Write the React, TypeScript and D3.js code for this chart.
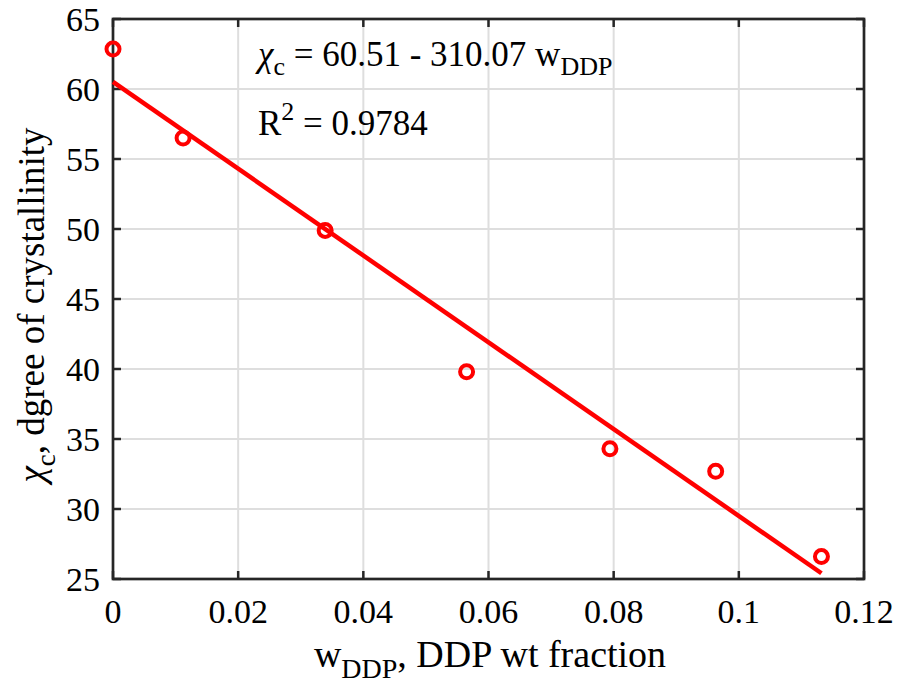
import React from "react";
import * as d3 from "d3";

const wDDP = [0, 0.0112, 0.0339, 0.0565, 0.0794, 0.0963, 0.1132];
const chiC = [62.85, 56.5, 49.9, 39.8, 34.3, 32.7, 26.6];
const xTicks = [0, 0.02, 0.04, 0.06, 0.08, 0.1, 0.12];
const yTicks = [25, 30, 35, 40, 45, 50, 55, 60, 65];
const fitIntercept = 60.51;
const fitSlope = -310.07;

const W = 900, H = 689;
const M = { left: 113, right: 36, top: 19, bottom: 110 };
const FONT = "Liberation Serif, Times New Roman, DejaVu Serif, serif";
const RED = "#ff0000";
const AX = "#262626";

export default function App() {
  const x = d3.scaleLinear().domain([0, 0.12]).range([M.left, W - M.right]);
  const y = d3.scaleLinear().domain([25, 65]).range([H - M.bottom, M.top]);
  const x0 = d3.min(wDDP)!, x1 = d3.max(wDDP)!;
  const fit = [x0, x1].map((v) => [v, fitIntercept + fitSlope * v] as [number, number]);
  const line = d3.line<[number, number]>().x((d) => x(d[0])).y((d) => y(d[1]));
  const fmt = (v: number) => (v === 0 ? "0" : String(+v.toFixed(2)));
  const [xl, xr] = x.range();
  const [yb, yt] = y.range();

  return (
    <svg width={W} height={H} style={{ position: "absolute", left: 0, top: 0, background: "#fff", fontFamily: FONT }}>
      <rect x={0} y={0} width={W} height={H} fill="#fff" />
      {xTicks.map((t) => (
        <line key={"gx" + t} x1={x(t)} x2={x(t)} y1={yb} y2={yt} stroke="#dedede" strokeWidth={2} />
      ))}
      {yTicks.map((t) => (
        <line key={"gy" + t} x1={xl} x2={xr} y1={y(t)} y2={y(t)} stroke="#dedede" strokeWidth={2} />
      ))}
      {xTicks.map((t) => (
        <g key={"tx" + t}>
          <line x1={x(t)} x2={x(t)} y1={yb} y2={yb - 8} stroke={AX} strokeWidth={2.5} />
          <line x1={x(t)} x2={x(t)} y1={yt} y2={yt + 8} stroke={AX} strokeWidth={2.5} />
          <text x={x(t)} y={yb + 44} fontSize={34} textAnchor="middle" fill="#000">{fmt(t)}</text>
        </g>
      ))}
      {yTicks.map((t) => (
        <g key={"ty" + t}>
          <line x1={xl} x2={xl + 8} y1={y(t)} y2={y(t)} stroke={AX} strokeWidth={2.5} />
          <line x1={xr} x2={xr - 8} y1={y(t)} y2={y(t)} stroke={AX} strokeWidth={2.5} />
          <text x={xl - 13} y={y(t) + 12} fontSize={34} textAnchor="end" fill="#000">{t}</text>
        </g>
      ))}
      <rect x={xl} y={yt} width={xr - xl} height={yb - yt} fill="none" stroke={AX} strokeWidth={2.7} />
      <path d={line(fit)!} fill="none" stroke={RED} strokeWidth={4.5} />
      {wDDP.map((v, i) => (
        <circle key={i} cx={x(v)} cy={y(chiC[i])} r={6.5} fill="none" stroke={RED} strokeWidth={4} />
      ))}
      <text x={258} y={66} fontSize={35} fill="#000">
        <tspan fontStyle="italic">χ</tspan>
        <tspan fontSize={26} dy={9}>c</tspan>
        <tspan dy={-9}> = 60.51 - 310.07 w</tspan>
        <tspan fontSize={26} dy={9}>DDP</tspan>
      </text>
      <text x={258} y={135} fontSize={35} fill="#000">
        R<tspan fontSize={26} dy={-15}>2</tspan>
        <tspan dy={15}> = 0.9784</tspan>
      </text>
      <text x={490} y={667} fontSize={38} textAnchor="middle" fill="#000">
        w<tspan fontSize={28} dy={11}>DDP</tspan>
        <tspan dy={-11}>, DDP wt fraction</tspan>
      </text>
      <text transform={`translate(44, ${(yt + yb) / 2 + 6}) rotate(-90)`} fontSize={37} textAnchor="middle" fill="#000">
        <tspan fontStyle="italic">χ</tspan>
        <tspan fontSize={27} dy={11}>c</tspan>
        <tspan dy={-11}>, dgree of crystallinity</tspan>
      </text>
    </svg>
  );
}
